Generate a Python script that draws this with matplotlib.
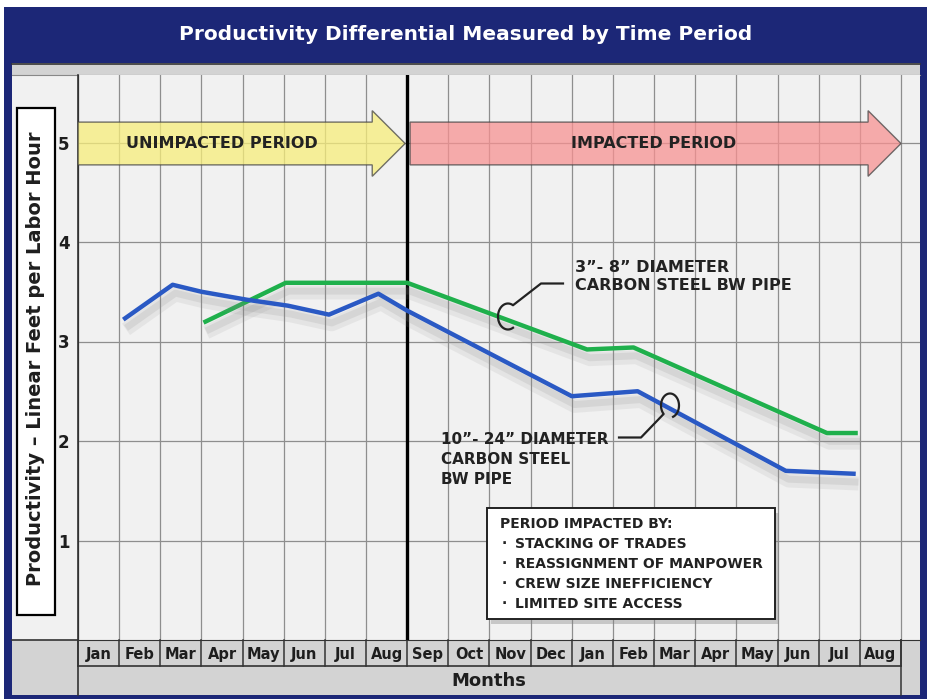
import matplotlib
matplotlib.use("Agg")
import matplotlib.pyplot as plt
import matplotlib.patheffects as pe
from matplotlib.patches import Rectangle, FancyArrow
from matplotlib.transforms import blended_transform_factory
import numpy as np

plt.rcParams['font.family'] = ['DejaVu Sans']
plt.rcParams['font.weight'] = 'bold'

# ---------------- data ----------------
months = ["Jan", "Feb", "Mar", "Apr", "May", "Jun", "Jul", "Aug",
          "Sep", "Oct", "Nov", "Dec",
          "Jan", "Feb", "Mar", "Apr", "May", "Jun", "Jul", "Aug"]
y_ticks = [1, 2, 3, 4, 5]

# month position (0 = left edge of first Jan column)
large_x = [1.1, 2.3, 3.0, 4.1, 5.1, 6.1, 7.3, 8.0, 12.0, 13.6, 17.2, 18.9]
large_y = [3.22, 3.57, 3.50, 3.42, 3.36, 3.27, 3.48, 3.31, 2.45, 2.50, 1.70, 1.67]

small_x = [3.05, 5.05, 8.0, 12.37, 13.5, 18.2, 18.95]
small_y = [3.19, 3.59, 3.59, 2.92, 2.94, 2.08, 2.08]

title = "Productivity Differential Measured by Time Period"
ylabel = "Productivity \u2013 Linear Feet per Labor Hour"
xlabel = "Months"
unimpacted_label = "UNIMPACTED PERIOD"
impacted_label = "IMPACTED PERIOD"
small_label = "3\u201d- 8\u201d DIAMETER\nCARBON STEEL BW PIPE"
large_label = "10\u201d- 24\u201d DIAMETER\nCARBON STEEL\nBW PIPE"
box_header = "PERIOD IMPACTED BY:"
box_items = ["STACKING OF TRADES", "REASSIGNMENT OF MANPOWER",
             "CREW SIZE INEFFICIENCY", "LIMITED SITE ACCESS"]

# ---------------- figure ----------------
W, H = 927, 699
fig = plt.figure(figsize=(W / 100, H / 100), dpi=100)
fig.patch.set_facecolor("white")

navy = "#1c2777"
lgray = "#d3d3d3"
bgc = "#f1f1f1"
edge = "#333333"
txt = "#1e1e1e"

# background / frame axes in pixel coordinates
bg = fig.add_axes([0, 0, 1, 1])
bg.set_xlim(0, W)
bg.set_ylim(H, 0)
bg.axis("off")

bg.add_patch(Rectangle((4, 7), W - 4, H - 7, facecolor=navy, edgecolor="none"))
bg.add_patch(Rectangle((12, 63), 920 - 12, 695 - 63, facecolor=bgc, edgecolor="none"))
bg.add_patch(Rectangle((12, 63), 920 - 12, 12, facecolor=lgray, edgecolor="none"))
bg.add_patch(Rectangle((12, 640), 920 - 12, 695 - 640, facecolor=lgray, edgecolor="none"))
bg.plot([12, 920], [63.5, 63.5], color=edge, lw=1.2)
bg.plot([12, 920], [75, 75], color="#888888", lw=0.8)
bg.plot([12, 920], [640, 640], color=edge, lw=1.2)
bg.plot([78, 78], [75, 695], color=edge, lw=1.2)
bg.plot([78, 901], [666, 666], color=edge, lw=1.2)

bg.text(W / 2 + 2, 35, title, color="white", fontsize=14.5, fontweight="bold",
        ha="center", va="center")
bg.add_patch(Rectangle((17, 108), 38, 507, facecolor="white", edgecolor="black", lw=1.6))
bg.text(36, 359, ylabel, rotation=90, fontsize=14, fontweight="bold",
        ha="center", va="center", color=txt)
bg.text(489, 681, xlabel, fontsize=13, fontweight="bold", ha="center", va="center",
        color=txt)

# ---------------- data axes ----------------
L, R, T, B = 78, 920, 75, 640
ax = fig.add_axes([L / W, (H - B) / H, (R - L) / W, (B - T) / H])
ax.set_facecolor(bgc)
px_per_month = 41.15
ax.set_xlim(0, (R - L) / px_per_month)
ax.set_ylim(0, (B - T) / 99.5)

n = len(months)
ax.set_xticks(np.arange(n) + 0.5)
ax.set_xticklabels(months, fontsize=10.5, fontweight="bold", color=txt)
ax.set_xticks(np.arange(n + 1), minor=True)
ax.tick_params(axis="x", which="both", length=0, pad=5)
ax.set_yticks(y_ticks)
ax.set_yticklabels([str(v) for v in y_ticks], fontsize=12, fontweight="bold", color=txt)
ax.tick_params(axis="y", length=0, pad=6)
ax.grid(which="minor", axis="x", color="#8e8e8e", lw=0.9)
ax.grid(which="major", axis="y", color="#8e8e8e", lw=0.9)
ax.set_axisbelow(True)
for s in ["top", "right"]:
    ax.spines[s].set_visible(False)
ax.spines["left"].set_color(edge)
ax.spines["bottom"].set_color(edge)

# month cell separators below the axes
tr = blended_transform_factory(ax.transData, ax.transAxes)
for i in range(n + 1):
    ax.plot([i, i], [0, -26 / (B - T)], transform=tr, color=edge, lw=1.1, clip_on=False)
ax.plot([n, n], [0, -55 / (B - T)], transform=tr, color=edge, lw=1.1, clip_on=False)

# period separator
ax.axvline(8, color="black", lw=2.4, zorder=4)

# arrows
ya, wa, hw = 4.99, 0.43, 0.66
ax.add_patch(FancyArrow(0, ya, 7.95, 0, width=wa, head_width=hw, head_length=0.8,
                        length_includes_head=True, facecolor="#f7ee7a", alpha=0.75,
                        edgecolor="#444444", lw=1.0, zorder=3))
ax.add_patch(FancyArrow(8.07, ya, 20.0 - 8.07, 0, width=wa, head_width=hw, head_length=0.8,
                        length_includes_head=True, facecolor="#f79292", alpha=0.75,
                        edgecolor="#444444", lw=1.0, zorder=3))
ax.text(3.5, ya, unimpacted_label, fontsize=11.5, fontweight="bold", ha="center",
        va="center", color="#222222", zorder=5)
ax.text(14.0, ya, impacted_label, fontsize=11.5, fontweight="bold", ha="center",
        va="center", color="#222222", zorder=5)

# series lines with soft shadow
shadow = [pe.SimpleLineShadow(offset=(2, -7), shadow_color="#8a8a8a", alpha=0.12, linewidth=10),
          pe.SimpleLineShadow(offset=(2, -6), shadow_color="#8a8a8a", alpha=0.16, linewidth=5),
          pe.Normal()]
ax.plot(small_x, small_y, color="#1fb04c", lw=3.2, solid_joinstyle="round",
        solid_capstyle="butt", path_effects=shadow, zorder=5)
ax.plot(large_x, large_y, color="#2a59c4", lw=3.2, solid_joinstyle="round",
        solid_capstyle="butt", path_effects=shadow, zorder=6)

# callouts
def px2d(px, py):
    return (px - L) / px_per_month, (639.5 - py) / 99.5

def loop(cx, cy, rx, ry, a0, a1):
    th = np.radians(np.linspace(a0, a1, 40))
    return [(cx + rx * np.cos(t), cy - ry * np.sin(t)) for t in th]

gpx = [(563, 283), (541, 283)] + loop(508, 316, 10, 13, 60, 300)
gpts = [px2d(*p) for p in gpx]
ax.plot([p[0] for p in gpts], [p[1] for p in gpts], color="#222222", lw=1.6, zorder=7)
bpx = [(619, 437), (641, 437)] + loop(670, 405, 9, 12, 225, -70)
bpts = [px2d(*p) for p in bpx]
ax.plot([p[0] for p in bpts], [p[1] for p in bpts], color="#222222", lw=1.6, zorder=7)

gx, gy = px2d(575, 276)
ax.text(gx, gy, small_label, fontsize=11.5, fontweight="bold", ha="left", va="center",
        color="#222222", linespacing=1.3, zorder=7)
bx, by = px2d(441, 459)
ax.text(bx, by, large_label, fontsize=11, fontweight="bold", ha="left", va="center",
        color="#222222", linespacing=1.4, zorder=7)

# legend box
x0, y0 = px2d(487, 618)
x1, y1 = px2d(775, 507)
sx, sy = 4 / px_per_month, 5 / 99.5
ax.add_patch(Rectangle((x0 + sx, y0 - sy), x1 - x0, y1 - y0, facecolor="#888888",
                       alpha=0.4, edgecolor="none", zorder=7))
ax.add_patch(Rectangle((x0, y0), x1 - x0, y1 - y0, facecolor="white",
                       edgecolor="#222222", lw=1.4, zorder=8))
hx, hy = px2d(500, 524)
ax.text(hx, hy, box_header, fontsize=10, fontweight="bold", ha="left", va="center",
        color="#222222", zorder=9)
for i, item in enumerate(box_items):
    ix, iy = px2d(515, 544 + 20 * i)
    bxp, _ = px2d(502, 544 + 20 * i)
    ax.text(bxp, iy, "\u00b7", fontsize=10, fontweight="bold", ha="left", va="center",
            color="#222222", zorder=9)
    ax.text(ix, iy, item, fontsize=10, fontweight="bold", ha="left", va="center",
            color="#222222", zorder=9)

fig.savefig("out.png", dpi=100)
